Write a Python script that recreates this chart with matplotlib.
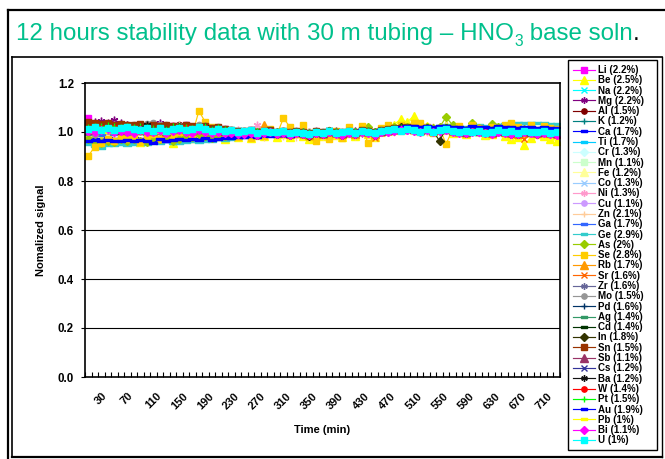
import numpy as np
import matplotlib
matplotlib.use('Agg')
import matplotlib.pyplot as plt
from matplotlib.path import Path
from matplotlib.transforms import IdentityTransform
from matplotlib.lines import Line2D
from matplotlib.patches import Rectangle

plt.rcParams['font.family'] = ['Liberation Sans', 'DejaVu Sans']

# ---------------- data ----------------
times = list(range(10, 740, 10))          # 73 categories (min)
xtick_values = list(range(30, 720, 40))   # labelled categories
ytick_values = [0.0, 0.2, 0.4, 0.6, 0.8, 1.0, 1.2]

elements = ['Li', 'Be', 'Na', 'Mg', 'Al', 'K', 'Ca', 'Ti', 'Cr', 'Mn', 'Fe', 'Co',
            'Ni', 'Cu', 'Zn', 'Ga', 'Ge', 'As', 'Se', 'Rb', 'Sr', 'Zr', 'Mo', 'Pd',
            'Ag', 'Cd', 'In', 'Sn', 'Sb', 'Cs', 'Ba', 'W', 'Pt', 'Au', 'Pb', 'Bi', 'U']
rsd = ['2.2', '2.5', '2.2', '2.2', '1.5', '1.2', '1.7', '1.7', '1.3', '1.1', '1.2', '1.3',
       '1.3', '1.1', '2.1', '1.7', '2.9', '2', '2.8', '1.7', '1.6', '1.6', '1.5', '1.6',
       '1.4', '1.4', '1.8', '1.5', '1.1', '1.2', '1.2', '1.4', '1.5', '1.9', '1', '1.1', '1']

# normalized signal, stored as deviation from 1.0 in thousandths
Li = [58,30,28,22,25,30,20,24,26,18, 20,22,15,24,20,28,18,22,26,16, 18,12,6,4,0,8,-4,2,6,-6,
      0,-8,-2,-6,-12,-4,-8,4,-2,-10, -4,-6,6,2,-10,0,4,14,18,22, 16,12,20,10,14,18,6,2,0,10,
      4,-2,0,8,2,-4,-6,6,-2,-8, 0,-4,-10]
Be = [-10,-25,-30,-18,-35,-20,-28,-15,-40,-22, -18,-30,-12,-45,-20,-8,-25,5,-10,-22,
      -15,-30,-10,-20,-5,-25,-12,-18,-2,-20, -10,-22,-5,-15,-28,-8,-18,-2,-12,-20,
      -5,-15,10,-8,-20,5,12,30,53,40, 65,20,25,8,15,30,-5,0,-10,12,
      5,-12,-8,10,-15,-30,-20,-53,-25,-10, -18,-28,-35]
Na = [25,18,30,15,22,28,12,20,16,24, 10,18,4,20,24,16,12,22,18,8, 20,6,0,10,-4,8,-8,4,10,-2,
      6,-10,4,-8,-2,2,-12,8,-4,-6, 6,-8,10,2,-12,8,12,4,20,10, 18,4,14,-2,12,20,6,10,-4,14,
      2,10,-6,12,6,-4,8,-2,10,-8, 6,-2,4]
Mg = [30,42,45,35,48,38,30,25,20,28, 22,35,18,15,20,26,12,18,24,14, 16,10,4,-2,6,0,-6,4,-4,2,
      -6,0,-10,-2,-14,4,-8,-4,6,-12, -2,6,-6,4,-10,0,8,6,16,12, 8,14,4,10,2,16,6,-2,8,0,
      10,-4,6,-2,8,-6,2,-8,4,-10, -2,-6,-12]
Al = [28,32,26,30,24,30,28,20,26,22, 18,24,20,26,28,22,18,24,20,16, 14,10,8,2,6,0,4,-2,8,0,
      4,-2,0,-6,2,-4,0,4,-2,-6, 2,-4,4,0,-2,6,4,10,14,10, 12,6,10,4,8,12,6,2,0,6,
      4,0,-4,2,-2,0,-6,2,-4,-2, 0,-4,-6]
K = [8,12,10,6,14,10,8,12,6,10, 4,8,2,10,12,8,6,10,12,4, 8,2,-2,0,-4,2,-6,-2,0,-6,
     -4,-8,-2,-6,-10,-4,-8,-2,-6,-8, -2,-6,0,-4,-8,-2,2,6,8,10, 6,4,8,2,6,8,2,0,-2,4,
     0,-2,-4,2,0,-4,-6,0,-2,-4, -2,-6,-8]
Ca = [-30,-28,-32,-26,-30,-28,-34,-26,-30,-28, -32,-26,-36,-28,-24,-30,-26,-28,-22,-30,
      -24,-20,-22,-16,-18,-12,-16,-10,-12,-8, -10,-12,-6,-8,-10,-4,-6,0,-4,-2,
      2,-2,6,4,0,8,10,14,18,20, 22,18,20,16,20,22,18,16,14,20,
      18,16,14,20,18,16,14,18,16,14, 16,14,12]
Ti = [-5,2,-8,0,4,-2,-6,2,-4,0, -8,-2,-10,0,2,4,-4,0,6,-6, 2,-4,-8,-10,-12,-6,-14,-10,-8,-12,
      -10,-14,-8,-12,-16,-10,-12,-6,-10,-14, -8,-12,-4,-8,-12,-6,0,4,6,10, 8,4,10,2,6,10,2,0,-4,4,
      2,-2,-4,4,0,-4,-8,2,-2,-6, -2,-6,-10]
Cr = [12,16,18,14,20,16,14,18,12,16, 10,14,8,14,16,18,12,16,18,12, 14,10,6,4,2,4,0,2,4,0,
      2,-2,0,-2,-4,0,-2,2,0,-2, 2,0,4,2,0,4,8,12,14,16, 14,12,14,10,12,14,10,8,6,10,
      8,6,4,8,6,4,2,6,4,2, 4,2,0]
Mn = [16,20,18,15,22,18,16,20,14,18, 14,16,12,16,18,20,14,18,20,14, 16,12,8,6,4,6,2,4,6,2,
      4,0,2,0,-2,2,0,4,2,0, 4,2,6,4,2,6,10,14,16,18, 16,14,16,12,14,16,12,10,8,12,
      10,8,6,10,8,6,4,8,6,4, 6,4,2]
Fe = [5,10,8,4,12,8,6,10,4,8, 2,6,0,8,10,12,6,10,12,4, 10,4,0,-2,-4,0,-6,-2,0,-6,
      -4,-8,-4,-6,-10,-4,-8,-2,-6,-8, -2,-6,0,-2,-6,2,4,8,10,12, 10,6,10,4,8,10,4,2,0,6,
      4,0,-2,4,2,-2,-4,2,0,-4, 0,-2,-6]
Co = [14,10,16,12,18,12,10,16,8,14, 6,12,4,12,14,16,10,14,16,8, 12,6,2,0,-2,4,-4,0,2,-4,
      -2,-6,0,-4,-8,-2,-6,2,-4,-6, 0,-4,4,0,-4,4,8,10,14,16, 12,8,14,6,10,14,8,6,2,8,
      6,2,0,6,4,0,-2,4,2,-2, 2,-2,-4]
Ni = [18,22,20,24,16,20,22,18,24,20, 14,18,12,16,20,22,16,18,20,14, 18,14,10,8,4,6,29,4,8,2,
      6,0,4,2,-2,6,0,4,2,-2, 4,2,6,4,0,6,10,12,16,18, 14,12,16,10,14,16,10,8,6,12,
      10,6,4,8,6,4,2,6,4,2, 4,2,-2]
Cu = [6,8,10,6,12,8,6,10,4,8, 4,6,2,8,10,12,6,10,12,4, 10,6,2,0,-2,2,-4,-2,2,-4,
      -2,-6,-2,-4,-8,-2,-6,0,-4,-6, 0,-4,2,0,-4,2,6,8,10,12, 10,8,10,6,8,10,6,4,2,6,
      4,2,0,4,2,0,-2,2,0,-2, 0,-2,-4]
Zn = [20,-5,25,10,30,5,18,-2,22,8, 0,20,-8,15,28,10,-5,25,12,-2, 18,-10,8,-12,5,-15,-2,-20,10,-8,
      -15,2,-20,-5,-25,0,-18,10,-12,-20, 5,-15,12,-8,-20,8,15,2,25,18, 10,25,0,20,5,28,-5,15,-8,22,
      -5,12,-10,18,0,-15,8,-8,12,-12, 5,-10,-5]
Ga = [-10,-5,-12,-2,-8,-4,-10,0,-6,-8, -12,-4,-14,-6,0,-2,-8,-4,2,-10, -4,-8,-12,-14,-16,-10,-18,-12,-10,-16,
      -12,-18,-10,-14,-20,-12,-16,-8,-14,-18, -8,-12,-4,-10,-14,-6,0,6,10,14, 10,6,12,4,8,14,4,0,-4,6,
      2,-2,-6,4,0,-4,-8,2,-2,-6, 0,-4,-8]
Ge = [-50,-58,-65,-55,-52,-48,-55,-50,-45,-48, -42,-46,-38,-44,-45,-40,-36,-40,-35,-38,
      -30,-32,-28,-24,-22,-18,-20,-14,-12,-10, -8,-10,-6,-4,-8,-2,-4,2,0,-2,
      4,2,8,6,4,10,14,18,22,24, 26,22,24,20,26,28,24,22,20,26,
      28,24,26,30,32,34,38,36,35,38, 36,34,32]
As = [-30,-40,-45,-35,-42,-30,-38,-28,-35,-40, -25,-30,-20,-35,-28,-15,-22,-10,-18,-25,
      -12,-18,-8,-15,-5,-10,-2,-8,0,-6, -4,-10,2,-6,-12,0,-5,6,-2,-8,
      4,-2,10,20,0,12,18,22,26,20, 24,18,22,16,20,61,28,14,10,35,
      16,10,32,20,12,8,4,14,6,2, 8,4,-2]
Se = [-98,-60,-45,-30,-35,-20,-28,-15,-40,-25, -10,-30,-5,-20,0,15,-10,86,40,20,
      10,-15,5,-20,-8,-25,-5,-15,12,-10, 57,20,-8,29,-20,-35,-10,-28,5,-24,
      20,-10,25,-45,-18,15,28,10,30,22, 35,37,20,-5,15,-49,12,25,-10,30,
      18,-5,22,10,28,37,20,-8,29,10, 25,18,12]
Rb = [10,20,15,25,12,18,22,8,16,20, 6,14,2,18,22,16,10,20,24,8, 14,6,0,2,-6,4,-8,28,6,-4,
      2,-10,0,-6,-14,-2,-8,4,-4,-10, 0,-8,6,2,-10,4,10,14,20,16, 12,8,16,4,12,18,6,2,-2,10,
      6,0,-4,8,2,-6,-8,4,0,-6, 2,-4,-8]
Sr = [5,12,8,15,10,6,14,2,10,8, 0,8,-4,10,12,6,2,14,10,0, 8,0,-6,-4,-10,0,-12,-6,-2,-10,
      -8,-14,-4,-12,-18,-6,-12,-2,-8,-14, -6,-10,-2,-6,-25,-4,2,6,10,14, 10,4,12,0,6,12,2,-2,-6,4,
      0,-6,-8,2,-4,-10,-12,-30,-6,-10, -4,-8,-12]
Zr = [12,18,14,20,16,12,18,10,14,16, 8,14,4,16,18,12,8,16,18,6, 12,4,0,-2,-6,2,-8,-2,2,-6,
      -2,-8,-2,-6,-12,-4,-8,2,-4,-8, -2,-6,4,0,-8,2,8,12,16,18, 14,10,16,6,12,16,8,4,0,10,
      6,2,-2,6,2,-4,-6,4,0,-4, 2,-4,-6]
Mo = [5,-10,15,22,28,20,25,30,26,32, 37,28,30,22,26,30,20,28,24,18, 20,14,8,6,2,8,0,4,10,2,
      6,-2,4,0,-6,2,-4,6,0,-4, 4,-2,6,4,-4,8,10,14,18,16, 14,10,16,8,12,16,10,6,2,10,
      6,2,0,6,2,-2,-4,4,0,-4, 2,-2,-6]
Pd = [15,10,18,12,20,14,10,16,8,14, 6,12,2,14,16,18,10,14,18,6, 14,6,2,0,-4,4,-6,0,4,-4,
      0,-6,0,-4,-10,-2,-6,4,-2,-6, 2,-4,6,2,-6,4,10,14,16,18, 14,10,16,8,12,16,8,4,2,10,
      6,2,0,6,2,-2,-6,4,0,-4, 2,-2,-6]
Ag = [20,16,22,18,24,20,16,22,14,18, 12,16,10,18,20,22,14,18,20,12, 16,10,6,4,2,6,0,2,6,0,
      2,-4,2,-2,-6,0,-4,4,0,-4, 2,-2,6,4,0,6,10,14,16,18, 16,12,16,10,14,18,10,8,6,12,
      8,6,4,8,6,2,0,6,4,0, 4,0,-2]
Cd = [8,12,10,14,12,8,14,10,12,10, 6,10,4,12,14,10,8,12,14,6, 10,4,0,-2,-4,0,-6,-2,2,-4,
      -2,-6,0,-4,-8,-2,-6,2,-2,-6, 0,-4,4,2,-4,2,8,10,14,16, 12,8,14,6,10,14,6,4,0,8,
      4,2,-2,4,2,-2,-4,2,0,-4, 0,-4,-6]
In = [18,10,22,14,26,16,12,20,8,16, 4,14,0,18,20,12,6,16,22,2, 14,2,-4,-6,-10,0,-12,-4,2,-10,
      -4,-12,-2,-8,-16,-4,-10,4,-6,-12, -2,-8,4,0,-12,4,10,14,20,16, 12,8,16,4,-37,18,6,2,-4,10,
      4,-2,-6,8,0,-8,-10,4,-2,-8, 0,-6,-10]
Sn = [40,35,32,36,30,34,30,28,32,26, 28,24,30,26,22,28,24,20,26,18, 20,14,10,6,4,8,2,6,10,2,
      6,0,4,2,-4,4,-2,6,2,-2, 4,0,8,6,2,8,12,16,18,20, 16,12,18,10,14,18,10,8,4,12,
      8,4,2,8,4,0,-2,6,2,-2, 4,0,-4]
Sb = [10,14,12,16,14,10,16,12,14,12, 8,12,6,14,16,12,10,14,16,8, 12,6,2,0,-2,2,-4,0,4,-2,
      0,-4,2,-2,-6,0,-4,4,0,-4, 2,-2,6,4,-2,4,8,12,14,16, 12,10,14,8,12,14,8,6,2,10,
      6,4,0,6,4,0,-2,4,2,-2, 2,-2,-4]
Cs = [6,10,8,12,10,6,12,8,10,8, 4,8,2,10,12,8,6,10,12,4, 8,2,-2,-4,-6,-2,-8,-4,0,-6,
      -4,-8,-2,-6,-10,-4,-8,0,-4,-8, -2,-6,2,0,-6,0,6,8,12,14, 10,6,12,4,8,12,4,2,-2,6,
      2,0,-4,2,0,-4,-6,0,-2,-6, -2,-6,-8]
Ba = [12,18,14,20,16,12,18,14,16,30, 10,16,8,18,20,14,10,18,20,8, 14,6,2,0,-4,2,-6,-2,4,-4,
      -2,-8,0,-4,-10,-2,-6,2,-4,-8, 0,-4,4,2,-6,2,8,12,16,18, 14,10,16,8,12,16,8,4,0,10,
      6,2,-2,6,2,-4,-6,4,0,-4, 2,-4,-6]
W = [14,8,16,10,18,12,8,14,6,12, 4,10,0,12,14,16,8,12,16,4, 10,4,0,-2,-6,2,-8,-2,2,-6,
     -2,-8,-2,-6,-12,-4,-8,2,-4,-8, -2,-6,2,0,-8,2,8,12,14,16, 12,8,14,6,10,14,6,2,0,8,
     4,0,-4,4,0,-4,-6,2,-2,-6, 0,-4,-8]
Pt = [18,22,20,24,20,16,22,18,20,16, 12,18,10,20,22,18,14,20,22,10, 16,8,4,2,0,6,-2,2,6,0,
      2,-4,2,-2,-6,0,-4,4,0,-4, 2,-2,6,4,-2,6,10,14,16,18, 14,10,16,8,12,16,8,6,2,10,
      6,4,0,6,4,0,-2,4,2,-2, 2,-2,-4]
Au = [-36,-34,-38,-32,-35,-38,-33,-36,-34,-37, -45,-30,-35,-33,-28,-34,-30,-32,-26,-34,
      -28,-24,-26,-20,-22,-16,-20,-14,-16,-12, -12,-16,-10,-12,-14,-8,-10,-4,-6,-2,
      4,0,8,6,2,10,14,18,22,24, 26,22,24,20,24,26,22,20,18,24,
      22,20,18,24,22,20,18,22,20,18, 20,18,16]
Pb = [2,4,6,2,8,4,2,6,0,4, -2,2,-4,4,6,8,2,6,8,0, 6,2,-2,-4,-6,-2,-8,-4,0,-6,
      -4,-8,-4,-6,-10,-4,-8,-2,-6,-8, -2,-6,0,-2,-6,0,4,6,8,10, 8,4,8,2,6,8,2,0,-2,4,
      2,-2,-4,2,0,-4,-6,0,-2,-4, -2,-4,-6]
Bi = [4,-2,8,12,0,6,2,-4,10,2, -2,8,-6,4,10,0,-4,8,2,-6, 2,-6,-4,-8,-10,-4,-12,-6,-2,-10,
      -6,-12,-4,-8,-14,-6,-10,-2,-8,-12, -4,-8,-2,-6,-12,-2,2,6,8,10, 4,0,8,-2,4,8,0,-4,-6,2,
      -2,-4,-8,0,-4,-8,-10,-2,-6,-10, -4,-8,-12]
U = [14,20,8,18,10,16,22,12,8,18, 6,16,4,12,18,10,14,20,12,6, 14,4,8,-2,4,8,-4,6,2,-2,
     4,-6,2,-4,-8,2,-6,4,-4,0, 4,-4,6,2,-6,6,8,12,4,14, 10,2,12,0,8,14,4,-2,6,2,
     6,-4,2,8,-2,4,-6,6,-2,2, 4,-4,0]

series = [Li, Be, Na, Mg, Al, K, Ca, Ti, Cr, Mn, Fe, Co, Ni, Cu, Zn, Ga, Ge, As, Se,
          Rb, Sr, Zr, Mo, Pd, Ag, Cd, In, Sn, Sb, Cs, Ba, W, Pt, Au, Pb, Bi, U]

# ---------------- styles ----------------
colors = ['#FF00FF', '#FFFF00', '#00FFFF', '#800080', '#800000', '#008080', '#0000FF',
          '#00CCFF', '#CCFFFF', '#CCFFCC', '#FFFF99', '#99CCFF', '#FF99CC', '#CC99FF',
          '#FFCC99', '#3366FF', '#33CCCC', '#99CC00', '#FFCC00', '#FF9900', '#FF6600',
          '#666699', '#969696', '#003366', '#339966', '#003300', '#333300', '#993300',
          '#993366', '#333399', '#111111', '#FF0000', '#00FF00', '#0000FF', '#FFFF00',
          '#FF00FF', '#00FFFF']
dash = Path([(-1, -0.35), (1, -0.35), (1, 0.35), (-1, 0.35), (-1, -0.35)],
            [Path.MOVETO, Path.LINETO, Path.LINETO, Path.LINETO, Path.CLOSEPOLY])
star = (6, 2, 0)
marker_cycle = ['s', '^', 'x', star, 'o', '+', dash, dash, 'D']
marker_size = [4.5, 6.2, 4.5, 5.5, 4.5, 5.5, 5.5, 5.5, 4.5]

W_PX, H_PX = 665, 459
fig = plt.figure(figsize=(W_PX / 100, H_PX / 100), dpi=100)

def fx(x):
    return x / W_PX

def fy(y):
    return (H_PX - y) / H_PX

# axes placement (pixel box of the plot area)
L, R, T, B = 85, 560, 83, 377
ax = fig.add_axes([fx(L), fy(B), (R - L) / W_PX, (B - T) / H_PX])

for i, vals in enumerate(series):
    k = i % len(marker_cycle)
    y = 1 + np.array(vals) / 1000.0
    ax.plot(times[:len(vals)], y, color=colors[i], lw=0.85, marker=marker_cycle[k],
            ms=marker_size[k], mfc=colors[i], mec=colors[i], mew=1,
            label=f"{elements[i]} ({rsd[i]}%)")

ax.set_xlim(5, 735)
ax.set_ylim(0, 1.2)
ax.set_yticks(ytick_values)
ax.set_yticklabels([f"{v:.1f}" for v in ytick_values], fontsize=8.3, fontweight='bold')
ax.set_xticks(xtick_values)
ax.set_xticklabels([str(v) for v in xtick_values], fontsize=8, fontweight='bold',
                   rotation=45, ha='center', va='top')
ax.set_xticks(list(range(5, 745, 10)), minor=True)
ax.tick_params(axis='x', which='major', length=0, pad=10)
ax.tick_params(axis='x', which='minor', direction='in', length=3.5, width=0.8, top=False)
ax.tick_params(axis='y', which='major', direction='out', length=3, width=0.8, pad=5)
for v in ytick_values[1:-1]:
    ax.axhline(v, color='black', lw=0.8, zorder=0.5)
for s in ax.spines.values():
    s.set_linewidth(1.2)
    s.set_color('black')

fig.text(fx(41), fy(230), 'Nomalized signal', rotation=90, ha='center', va='center',
         fontsize=8, fontweight='bold')
fig.text(fx(322), fy(430), 'Time (min)', ha='center', va='center',
         fontsize=8, fontweight='bold')

idt = IdentityTransform()

# legend (frame drawn separately to match the wide box)
fig.add_artist(Rectangle((568, H_PX - 450), 89, 390, transform=idt, fill=False,
                         edgecolor='black', lw=1.0))
leg = fig.legend(loc='upper left', bbox_to_anchor=(fx(570), fy(62)), borderaxespad=0,
                 prop={'size': 7, 'weight': 'bold'}, handlelength=2.3, handletextpad=0.3,
                 labelspacing=0.03, borderpad=0.3, frameon=False, markerscale=0.85)

# frames
def hline(x0, x1, y, lw):
    fig.add_artist(Line2D([x0, x1], [H_PX - y, H_PX - y], transform=idt, color='black', lw=lw))
def vline(x, y0, y1, lw):
    fig.add_artist(Line2D([x, x], [H_PX - y0, H_PX - y1], transform=idt, color='black', lw=lw))

hline(8, 665, 10, 1.6)
vline(8, 10, 459, 1.6)
hline(12, 662, 57, 1.2)
hline(12, 662, 457, 1.6)
vline(12, 57, 457, 1.2)
vline(662, 57, 457, 1.0)

# title, composed of pieces
green = '#00C08C'
renderer = fig.canvas.get_renderer()
title_size = 15.5
def place_title(size):
    arts = []
    x = 16
    base = H_PX - 40
    t1 = fig.text(x, base, '12 hours stability data with 30 m tubing \u2013 HNO', transform=idt,
                  fontsize=size, color=green, va='baseline', ha='left')
    arts.append(t1)
    x = t1.get_window_extent(renderer).x1
    t2 = fig.text(x + 0.5, base - size * 0.35, '3', transform=idt, fontsize=size * 0.65,
                  color=green, va='baseline', ha='left')
    arts.append(t2)
    x = t2.get_window_extent(renderer).x1
    t3 = fig.text(x, base, ' base soln', transform=idt, fontsize=size, color=green,
                  va='baseline', ha='left')
    arts.append(t3)
    x = t3.get_window_extent(renderer).x1
    t4 = fig.text(x, base, '.', transform=idt, fontsize=size, color='black',
                  va='baseline', ha='left')
    arts.append(t4)
    return arts, t4.get_window_extent(renderer).x1

arts, xend = place_title(title_size)
target_end = 638
scale = (target_end - 16) / (xend - 16)
for a in arts:
    a.remove()
arts, xend = place_title(title_size * scale)

fig.savefig('out.png', dpi=100)
